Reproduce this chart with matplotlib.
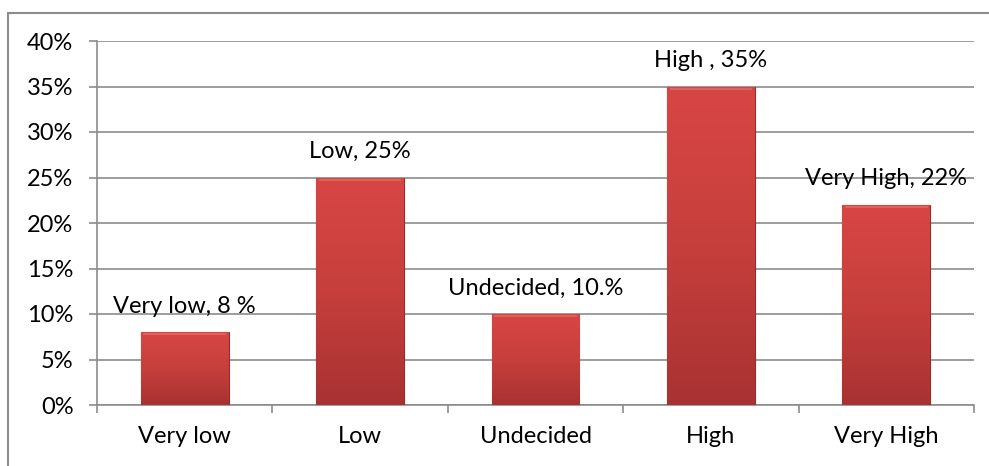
import matplotlib
matplotlib.use('Agg')
import matplotlib.pyplot as plt
import numpy as np
from matplotlib.patches import Rectangle

categories = ['Very low', 'Low', 'Undecided', 'High', 'Very High']
values = [8, 25, 10, 35, 22]
labels = ['Very low, 8 %', 'Low, 25%', 'Undecided, 10.%', 'High , 35%', 'Very High, 22%']

plt.rcParams['font.family'] = ['Lato', 'DejaVu Sans']

fig = plt.figure(figsize=(9.89, 4.66), dpi=100)
ax = fig.add_axes([97 / 989, 61 / 466, 877 / 989, 364 / 466])

# outer chart border (only top and left visible)
fig.patches.append(Rectangle((8 / 989, -0.1), 1.2, (466 - 13) / 466 + 0.1,
                             transform=fig.transFigure, fill=False,
                             edgecolor='#8c8c8c', linewidth=1.5))

x = np.arange(len(categories))
width = 0.5
grid_c = '#8c8c8c'

# vertical gradient to mimic the bevelled bars
grad = np.linspace(0, 1, 256).reshape(-1, 1)
cmap = matplotlib.colors.LinearSegmentedColormap.from_list(
    'barred', ['#a83232', '#c63f3c', '#d84644'])

bars = ax.bar(x, values, width, color='#c8403d', edgecolor='#9a2a2a',
              linewidth=0.8, zorder=3)
for bar in bars:
    x0, y0 = bar.get_x(), bar.get_y()
    w, h = bar.get_width(), bar.get_height()
    im = ax.imshow(grad, extent=(x0, x0 + w, y0, y0 + h), origin='lower',
                   cmap=cmap, aspect='auto', zorder=3.5)
    im.set_clip_path(bar)
    # light bevel along top edge
    ax.plot([x0 + 0.02, x0 + w - 0.02], [y0 + h - 0.25, y0 + h - 0.25],
            color='#e06a66', linewidth=1.2, zorder=4)

for xi, v, lab in zip(x, values, labels):
    ax.annotate(lab, (xi, v), xytext=(0, 26), textcoords='offset pixels',
                ha='center', va='center', fontsize=17, color='black', zorder=5)

ax.set_xlim(-0.5, len(categories) - 0.5)
ax.set_ylim(0, 40)
ax.set_yticks(np.arange(0, 41, 5))
ax.set_yticklabels([f'{t}%' for t in range(0, 41, 5)], fontsize=17)
ax.set_xticks(x)
ax.set_xticklabels(categories, fontsize=17)
ax.tick_params(axis='x', length=0, pad=15)
ax.set_xticks(np.arange(-0.5, len(categories), 1), minor=True)
ax.tick_params(axis='x', which='minor', length=6, color=grid_c, width=1.2)
ax.tick_params(axis='y', length=6, color=grid_c, width=1.2, pad=11)

ax.grid(axis='y', color=grid_c, linewidth=1.2, zorder=0)
ax.set_axisbelow(True)
for s in ['top', 'right']:
    ax.spines[s].set_visible(False)
ax.spines['left'].set_color(grid_c)
ax.spines['bottom'].set_color(grid_c)
ax.spines['left'].set_linewidth(1.2)
ax.spines['bottom'].set_linewidth(1.2)

fig.savefig('out.png', dpi=100)
